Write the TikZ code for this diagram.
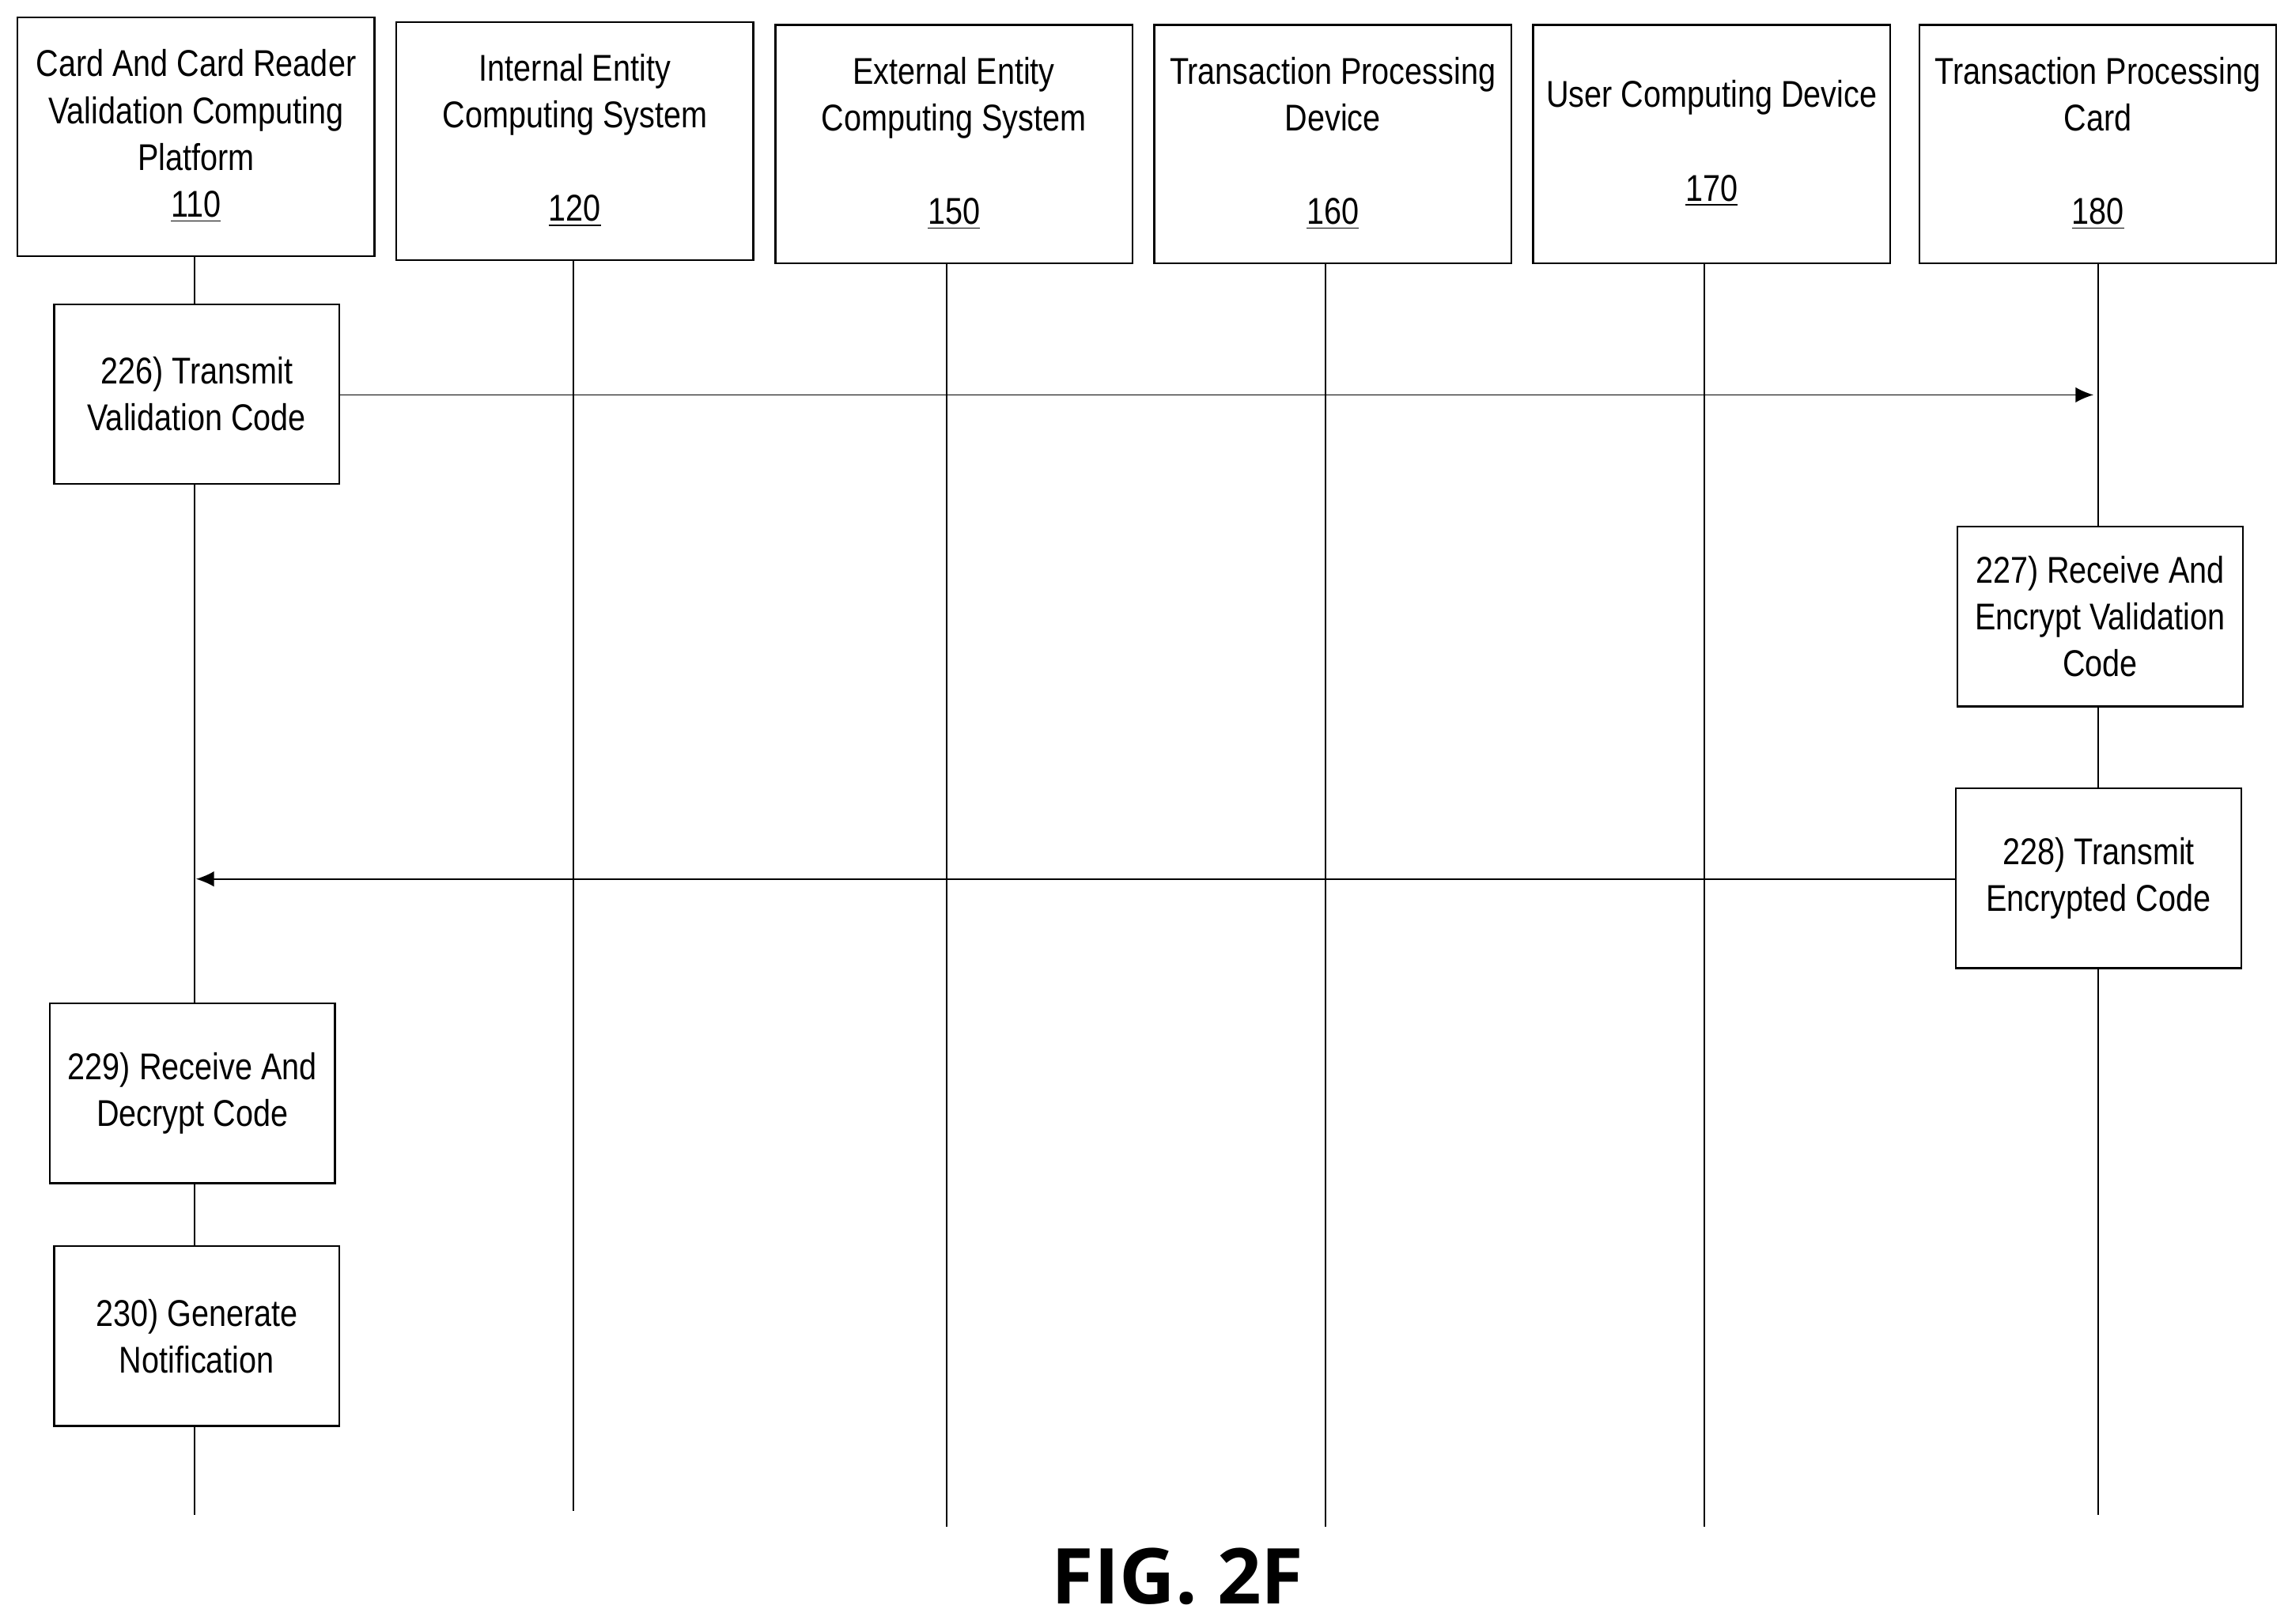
\documentclass[tikz,border=0pt]{standalone}
\usepackage{fontspec}
\setmainfont[FakeStretch=0.84]{Liberation Sans}
\newfontfamily\figfont{Open Sans}
\usetikzlibrary{arrows.meta}
\begin{document}
\begin{tikzpicture}[x=0.02cm,y=-0.02cm,
 box/.style={draw,line width=0.7pt,inner sep=0pt},
 txt/.style={align=center,font=\fontsize{14.5}{18.2}\selectfont,inner sep=0pt},
 life/.style={line width=0.6pt},
 msg/.style={line width=0.5pt,-{Latex[length=7pt,width=6pt]}}]
\useasboundingbox (0,0) rectangle (1564,1110);
% headers
\draw[box] (12,12) rectangle (256,175);
\node[txt] (h110) at (134,93) {Card And Card Reader\\Validation Computing\\Platform\\\underline{110}};
\draw[box] (271,15) rectangle (515,178);
\node[txt] (h120) at (393,96) {Internal Entity\\Computing System\\ \\\underline{120}};
\draw[box] (530,17) rectangle (774,180);
\node[txt] (h150) at (652,98) {External Entity\\Computing System\\ \\\underline{150}};
\draw[box] (789,17) rectangle (1033,180);
\node[txt] (h160) at (911,98) {Transaction Processing\\Device\\ \\\underline{160}};
\draw[box] (1048,17) rectangle (1292,180);
\node[txt] (h170) at (1170,98) {User Computing Device\\ \\\underline{170}};
\draw[box] (1312,17) rectangle (1556,180);
\node[txt] (h180) at (1434,98) {Transaction Processing\\Card\\ \\\underline{180}};
% lifelines
\draw[life] (133,175) -- (133,208) (133,331) -- (133,686) (133,809) -- (133,852) (133,975) -- (133,1036);
\draw[life] (392,178) -- (392,1033);
\draw[life] (647,180) -- (647,1044);
\draw[life] (906,180) -- (906,1044);
\draw[life] (1165,180) -- (1165,1044);
\draw[life] (1434,180) -- (1434,360) (1434,483) -- (1434,539) (1434,662) -- (1434,1036);
% step boxes
\node[box,minimum width=195*0.02cm,minimum height=123*0.02cm] (b226) at (134.5,269.5) {};
\node[txt] at (b226) {226) Transmit\\Validation Code};
\node[box,minimum width=195*0.02cm,minimum height=123*0.02cm] (b227) at (1435.5,421.5) {};
\node[txt] at (b227) {227) Receive And\\Encrypt Validation\\Code};
\node[box,minimum width=195*0.02cm,minimum height=123*0.02cm] (b228) at (1434.5,600.5) {};
\node[txt] at (b228) {228) Transmit\\Encrypted Code};
\node[box,minimum width=195*0.02cm,minimum height=123*0.02cm] (b229) at (131.5,747.5) {};
\node[txt] at (b229) {229) Receive And\\Decrypt Code};
\node[box,minimum width=195*0.02cm,minimum height=123*0.02cm] (b230) at (134.5,913.5) {};
\node[txt] at (b230) {230) Generate\\Notification};
% messages
\coordinate (e1) at (1431,270);
\draw[msg] (b226.east |- 0,270) -- (e1);
\coordinate (e2) at (134,601);
\draw[msg] (b228.west |- 0,601) -- (e2);
\node[font=\figfont\bfseries\fontsize{30}{34}\selectfont] (fig) at (805,1078) {FIG. 2F};
\end{tikzpicture}
\end{document}
